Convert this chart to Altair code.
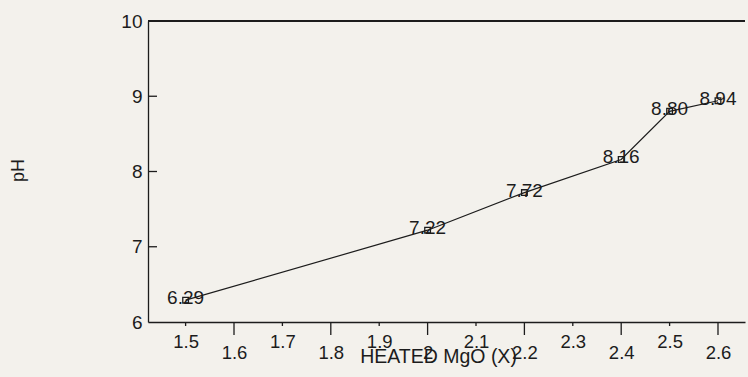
import altair as alt
import pandas as pd

# data
mgo = [1.5, 2.0, 2.2, 2.4, 2.5, 2.6]
ph = [6.29, 7.22, 7.72, 8.16, 8.80, 8.94]
ph_labels = ["6.29", "7.22", "7.72", "8.16", "8.80", "8.94"]

x_tick_values = [1.5, 1.6, 1.7, 1.8, 1.9, 2.0, 2.1, 2.2, 2.3, 2.4, 2.5, 2.6]
x_major_ticks = [1.6, 1.8, 2.0, 2.2, 2.4, 2.6]
x_minor_ticks = [1.5, 1.7, 1.9, 2.1, 2.3, 2.5]
y_tick_values = [6, 7, 8, 9, 10]
y_inner_ticks = [7, 8, 9]

W, H = 597, 301
INK = "#1c1c1c"
FONT = "Liberation Sans"

df = pd.DataFrame({"x": mgo, "y": ph, "label": ph_labels})

xaxis = alt.Axis(
    values=x_tick_values, format="~g", ticks=False, grid=False,
    domainColor=INK, domainWidth=1.3,
    labelFont=FONT, labelFontSize=18.5, labelColor=INK, labelBaseline="top",
    labelPadding=alt.expr("round(datum.value*10) % 2 == 1 ? 10 : 21"),
    labelFlush=False, labelOverlap=False,
    title="HEATED MgO (X)", titleFont=FONT, titleFontSize=19.5, titleFontWeight="normal",
    titleColor=INK, titleX=290, titleY=34, titleBaseline="middle",
)
yaxis = alt.Axis(
    values=y_tick_values, ticks=False, grid=False,
    domainColor=INK, domainWidth=1.3,
    labelFont=FONT, labelFontSize=19, labelColor=INK, labelPadding=6,
    labelFlush=False,
    title="pH", titleFont=FONT, titleFontSize=18, titleFontWeight="normal",
    titleColor=INK, titleX=-130, titleY=149, titleBaseline="middle", titleAlign="center",
)

X = alt.X("x:Q", scale=alt.Scale(domain=[1.4223, 2.6558], nice=False, zero=False), axis=xaxis)
Y = alt.Y("y:Q", scale=alt.Scale(domain=[6, 10], nice=False, zero=False), axis=yaxis)

base = alt.Chart(df)
line = base.mark_line(color=INK, strokeWidth=1.2).encode(x=X, y=Y)
pts = base.mark_point(shape="square", size=32, filled=False, color=INK, strokeWidth=1.3, opacity=1).encode(x=X, y=Y)
txt = base.mark_text(font=FONT, fontSize=19, color=INK, align="center", baseline="middle", dy=-2).encode(
    x=X, y=Y, text="label:N")

top = alt.Chart(df).mark_rule(color=INK, strokeWidth=1.3).encode(
    x=alt.value(0), x2=alt.value(W), y=alt.value(0))

major = alt.Chart(pd.DataFrame({"x": x_major_ticks})).mark_rule(color=INK, strokeWidth=1.3).encode(
    x=X, y=alt.value(H), y2=alt.value(H + 13))
minor = alt.Chart(pd.DataFrame({"x": x_minor_ticks})).mark_rule(color=INK, strokeWidth=1.3).encode(
    x=X, y=alt.value(H), y2=alt.value(H + 4))
yt = alt.Chart(pd.DataFrame({"y": y_inner_ticks})).mark_rule(color=INK, strokeWidth=1.3).encode(
    y=Y, x=alt.value(0), x2=alt.value(9))

chart = alt.layer(line, pts, txt, top, major, minor, yt).properties(
    width=W, height=H,
    autosize=alt.AutoSizeParams(type="none"),
    padding={"left": 148, "top": 21, "right": 3, "bottom": 55},
    background="#f3f1ec",
).configure_view(stroke=None)

chart.save("out.html", embed_options={"renderer": "svg", "actions": False})
